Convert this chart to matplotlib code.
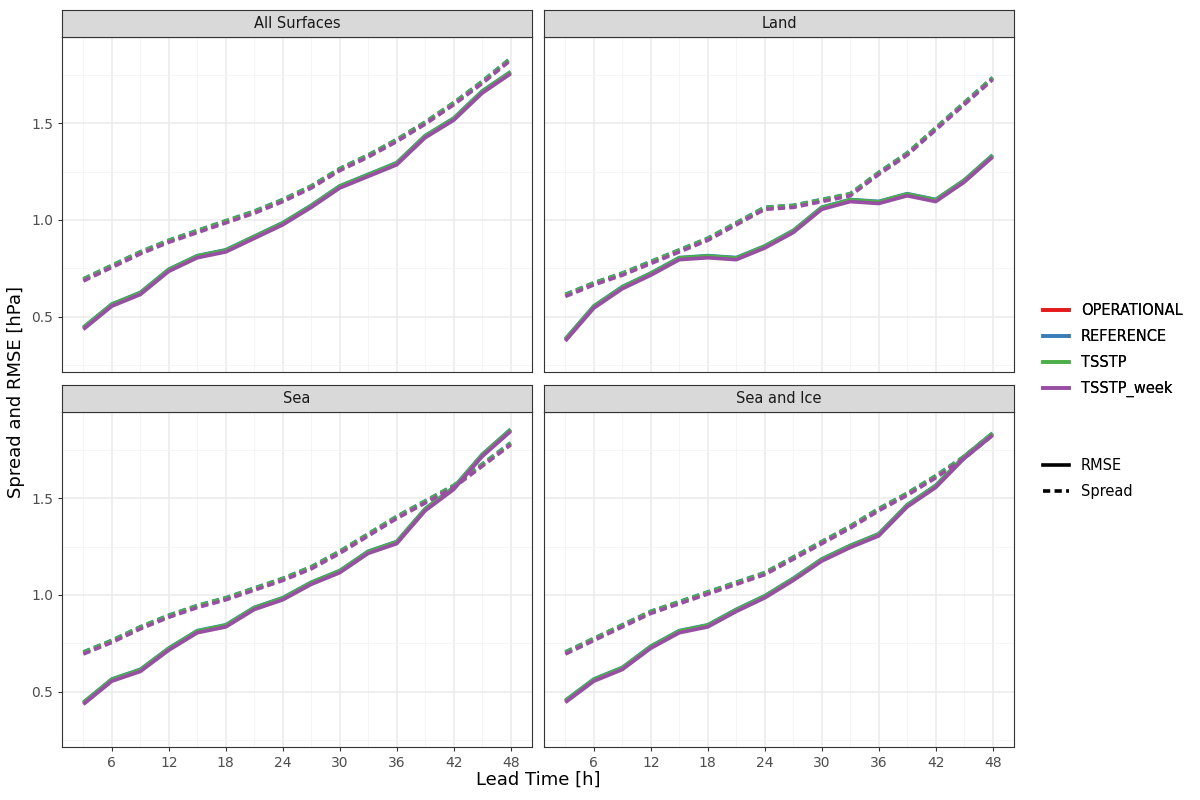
import matplotlib
matplotlib.use("Agg")
import matplotlib.pyplot as plt
from matplotlib.lines import Line2D
import numpy as np

lead = [3, 6, 9, 12, 15, 18, 21, 24, 27, 30, 33, 36, 39, 42, 45, 48]
panels = ["All Surfaces", "Land", "Sea", "Sea and Ice"]
models = ["OPERATIONAL", "REFERENCE", "TSSTP", "TSSTP_week"]
colors = ["#E41A1C", "#377EB8", "#4DAF4A", "#984EA3"]

rmse_all = [0.44,0.56,0.62,0.74,0.81,0.84,0.91,0.98,1.07,1.17,1.23,1.29,1.43,1.52,1.66,1.76]
spread_all = [0.69,0.76,0.83,0.89,0.94,0.99,1.04,1.10,1.17,1.26,1.33,1.41,1.50,1.60,1.71,1.83]
rmse_land = [0.38,0.55,0.65,0.72,0.80,0.81,0.80,0.86,0.94,1.06,1.10,1.09,1.13,1.10,1.20,1.33]
spread_land = [0.61,0.67,0.72,0.78,0.84,0.90,0.98,1.06,1.07,1.10,1.13,1.24,1.34,1.47,1.60,1.73]
rmse_sea = [0.44,0.56,0.61,0.72,0.81,0.84,0.93,0.98,1.06,1.12,1.22,1.27,1.44,1.55,1.72,1.85]
spread_sea = [0.70,0.76,0.83,0.89,0.94,0.98,1.03,1.08,1.14,1.22,1.31,1.40,1.48,1.56,1.67,1.78]
rmse_seaice = [0.45,0.56,0.62,0.73,0.81,0.84,0.92,0.99,1.08,1.18,1.25,1.31,1.46,1.56,1.71,1.83]
spread_seaice = [0.70,0.77,0.84,0.91,0.96,1.01,1.06,1.11,1.19,1.27,1.35,1.44,1.52,1.61,1.71,1.83]

# small per-model differences (hPa) relative to the panel values
model_offset = [0.0, 0.006, 0.004, -0.005]

rmse = [rmse_all, rmse_land, rmse_sea, rmse_seaice]
spread = [spread_all, spread_land, spread_sea, spread_seaice]

fig = plt.figure(figsize=(12, 8), dpi=100)
W, H = 1200, 800
boxes = [(62, 37, 532, 372), (544, 37, 1014, 372), (62, 412, 532, 747), (544, 412, 1014, 747)]
for i, (x0, y0, x1, y1) in enumerate(boxes):
    ax = fig.add_axes([x0 / W, 1 - y1 / H, (x1 - x0) / W, (y1 - y0) / H])
    ax.set_facecolor("white")
    ax.set_xlim(0.75, 50.25)
    ax.set_ylim(0.215, 1.945)
    ax.set_xticks([6, 12, 18, 24, 30, 36, 42, 48])
    ax.set_xticks([3, 9, 15, 21, 27, 33, 39, 45], minor=True)
    ax.set_yticks([0.5, 1.0, 1.5])
    ax.set_yticks([0.25, 0.75, 1.25, 1.75], minor=True)
    ax.grid(which="major", color="#EBEBEB", lw=1.1)
    ax.grid(which="minor", color="#F4F4F4", lw=0.6)
    ax.set_axisbelow(True)
    for s in ax.spines.values():
        s.set_color("#333333"); s.set_linewidth(0.8)
    ax.tick_params(which="minor", length=0)
    ax.tick_params(which="major", color="#333333", length=3, labelsize=10, labelcolor="#4D4D4D")
    if i % 2 == 1:
        ax.tick_params(axis="y", labelleft=False, length=0)
    else:
        ax.set_yticklabels(["0.5", "1.0", "1.5"])
    if i < 2:
        ax.tick_params(axis="x", labelbottom=False, length=0)
    for m, c in enumerate(colors):
        ax.plot(lead, np.array(rmse[i]) + model_offset[m], color=c, lw=2.6, solid_capstyle="butt")
        ax.plot(lead, np.array(spread[i]) + model_offset[m], color=c, lw=2.6, ls=(0, (2, 1.2)))
    sax = fig.add_axes([x0 / W, 1 - y0 / H, (x1 - x0) / W, 27 / H])
    sax.set_facecolor("#D9D9D9")
    sax.set_xticks([]); sax.set_yticks([])
    for s in sax.spines.values():
        s.set_color("#333333"); s.set_linewidth(0.8)
    sax.text(0.5, 0.5, panels[i], ha="center", va="center", fontsize=10.5, color="#1A1A1A", transform=sax.transAxes)

fig.text(538 / W, 1 - 780 / H, "Lead Time [h]", ha="center", va="center", fontsize=13)
fig.text(16 / W, 1 - 392 / H, "Spread and RMSE [hPa]", ha="center", va="center", rotation=90, fontsize=13)

h1 = [Line2D([], [], color=c, lw=2.6) for c in colors]
l1 = fig.legend(h1, models, loc="upper left", bbox_to_anchor=(1030 / W, 1 - 290 / H), frameon=False,
                fontsize=10.5, handlelength=1.8, labelspacing=0.75)
fig.add_artist(l1)
h2 = [Line2D([], [], color="black", lw=2.6), Line2D([], [], color="black", lw=2.6, ls=(0, (2, 1.2)))]
fig.legend(h2, ["RMSE", "Spread"], loc="upper left", bbox_to_anchor=(1030 / W, 1 - 445 / H), frameon=False,
           fontsize=10.5, handlelength=1.8, labelspacing=0.75)

fig.savefig("out.png", dpi=100)
